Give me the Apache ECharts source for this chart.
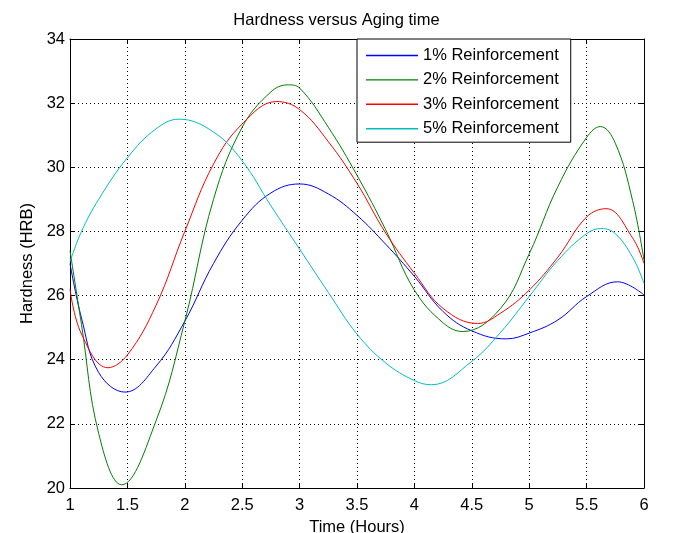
<!DOCTYPE html>
<html>
<head>
<meta charset="utf-8">
<script src="https://cdn.jsdelivr.net/npm/echarts@6/dist/echarts.min.js"></script>
<style>
  html, body { margin: 0; padding: 0; background: #fff; }
  #main { width: 673px; height: 533px; }
</style>
</head>
<body>
<div id="main"></div>
<script>
// hardness readings [time in hours, HRB]
var rein1 = [[1,27.0],[1.1,25.3],[1.25,23.6],[1.48,22.99],[1.75,23.8],[2,25.2],[2.25,27.0],[2.5,28.35],
  [2.75,29.2],[3,29.48],[3.25,29.17],[3.5,28.5],[3.75,27.6],[4,26.6],[4.25,25.5],[4.5,24.9],
  [4.8,24.65],[5,24.83],[5.25,25.24],[5.5,25.97],[5.77,26.43],[6,26.02]];
var rein2 = [[1,27.4],[1.1,25.1],[1.25,21.7],[1.45,20.1],[1.75,22.1],[2,25.2],[2.25,29.0],[2.5,31.25],
  [2.75,32.35],[2.9,32.57],[3,32.47],[3.25,31.25],[3.5,29.75],[3.75,28.05],[4,26.17],[4.25,25.15],
  [4.42,24.88],[4.75,25.6],[5,27.3],[5.25,29.4],[5.5,30.93],[5.62,31.27],[5.75,30.75],[5.9,28.97],[6,27.1]];
var rein3 = [[1,26.2],[1.1,24.8],[1.33,23.75],[1.5,24.15],[1.75,25.7],[2,28.0],[2.25,30.1],[2.5,31.35],
  [2.8,32.05],[3,31.8],[3.25,30.8],[3.5,29.5],[3.75,27.95],[4,26.7],[4.25,25.6],[4.55,25.13],
  [4.75,25.45],[5,26.17],[5.25,27.2],[5.5,28.45],[5.67,28.71],[5.9,27.8],[6,27.0]];
var rein5 = [[1,27.05],[1.1,28.0],[1.25,29.0],[1.5,30.3],[1.75,31.2],[1.95,31.5],[2.25,31.1],[2.5,30.2],
  [2.75,28.8],[3,27.45],[3.25,26.1],[3.5,24.8],[3.75,23.9],[4,23.35],[4.15,23.22],[4.5,23.95],
  [4.75,24.85],[5,25.97],[5.25,27.1],[5.5,27.93],[5.63,28.09],[5.75,27.93],[5.9,27.2],[6,26.38]];

var names = ['1% Reinforcement', '2% Reinforcement', '3% Reinforcement', '5% Reinforcement'];
var colors = ['#0000ff', '#008000', '#ff0000', '#00bfbf'];

var font = 'Liberation Sans, Arial, sans-serif';

var chart = echarts.init(document.getElementById('main'));

function xAx(pos, main) {
  return {
    type: 'value', position: pos, min: 1, max: 6, interval: 0.5,
    name: main ? 'Time (Hours)' : '', nameLocation: 'middle', nameGap: 29,
    nameTextStyle: { color: '#000', fontSize: 16.5, fontFamily: font },
    axisLine: { show: true, onZero: false, lineStyle: { color: '#000', width: 1 } },
    axisTick: { show: true, inside: true, length: 5, lineStyle: { color: '#000' } },
    axisLabel: { show: main, color: '#000', fontSize: 16.5, fontFamily: font, margin: 9 },
    splitLine: { show: main, lineStyle: { color: '#000', type: [1, 3], width: 1 } }
  };
}
function yAx(pos, main) {
  return {
    type: 'value', position: pos, min: 20, max: 34, interval: 2,
    name: main ? 'Hardness (HRB)' : '', nameLocation: 'middle', nameGap: 34,
    nameTextStyle: { color: '#000', fontSize: 16.5, fontFamily: font },
    axisLine: { show: true, onZero: false, lineStyle: { color: '#000', width: 1 } },
    axisTick: { show: true, inside: true, length: 5, lineStyle: { color: '#000' } },
    axisLabel: { show: main, color: '#000', fontSize: 16.5, fontFamily: font, margin: 5 },
    splitLine: { show: main, lineStyle: { color: '#000', type: [1, 3], width: 1 } }
  };
}

var data = [rein1, rein2, rein3, rein5];

var option = {
  animation: false,
  backgroundColor: '#fff',
  color: colors,
  title: {
    text: 'Hardness versus Aging time',
    left: 'center', top: 7,
    textStyle: { color: '#000', fontWeight: 'normal', fontSize: 16.5, fontFamily: font }
  },
  grid: { left: 70, right: 29, top: 39, bottom: 45, outerBoundsMode: 'none' },
  legend: {
    orient: 'vertical',
    left: 357, top: 39,
    backgroundColor: '#fff',
    borderColor: '#000', borderWidth: 1, borderRadius: 0,
    padding: [8, 12, 5, 9],
    icon: 'rect',
    itemWidth: 52, itemHeight: 1.4, itemGap: 7.4,
    textStyle: { color: '#000', fontSize: 16.5, fontFamily: font, lineHeight: 14 },
    data: names
  },
  xAxis: [xAx('bottom', true), xAx('top', false)],
  yAxis: [yAx('left', true), yAx('right', false)],
  series: data.map(function (d, i) {
    return {
      name: names[i], type: 'line', data: d,
      smooth: 0.4, symbol: 'none',
      lineStyle: { width: 1, color: colors[i] },
      itemStyle: { color: colors[i] }
    };
  })
};

chart.setOption(option);
</script>
</body>
</html>
